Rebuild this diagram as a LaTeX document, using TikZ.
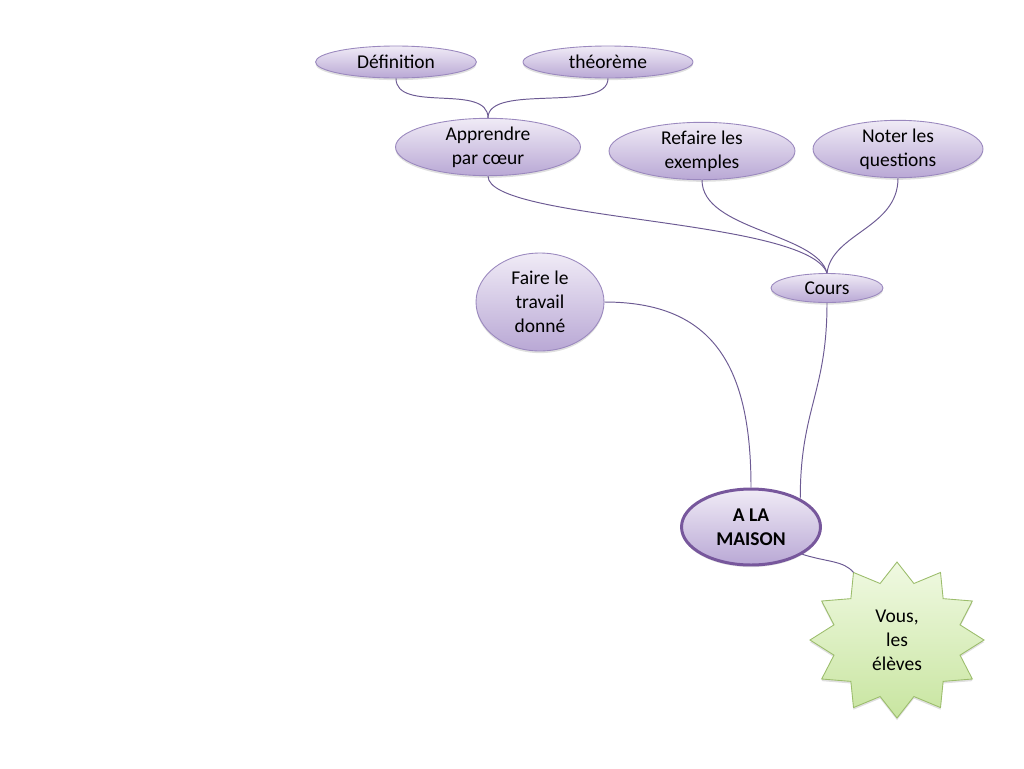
\documentclass[tikz,border=0pt]{standalone}
\usepackage{fontspec}
\setmainfont{Carlito}
\usepackage{xcolor}
\usetikzlibrary{shapes, shadows, calc, positioning}

\definecolor{bord}{HTML}{9A88BE}
\definecolor{haut}{HTML}{F0EBF6}
\definecolor{bas}{HTML}{B9A8D5}
\definecolor{fil}{HTML}{6C5A93}
\definecolor{centre}{HTML}{77579C}
\definecolor{vhaut}{HTML}{F0F9E2}
\definecolor{vbas}{HTML}{C8E5A0}
\definecolor{vbord}{HTML}{9CBD6C}

\begin{document}
\begin{tikzpicture}[x=0.02cm, y=0.02cm]
    \useasboundingbox (0,0) rectangle (1024,-768);
    \begin{scope}[every node/.style = {font=\fontsize{11.1}{13.6}\selectfont, align=center, inner sep=0pt},
        bulle/.style = {ellipse, draw=bord, line width=0.5pt, top color=haut, bottom color=bas,
            drop shadow={opacity=0.25, shadow xshift=0pt, shadow yshift=-1.2pt}},
        lien/.style = {draw=fil, line width=0.55pt}]
        \node[bulle, minimum width=3.22cm, minimum height=0.64cm] (def) at (396,-62) {Définition};
        \node[bulle, minimum width=3.4cm, minimum height=0.64cm] (theo) at (608,-62) {théorème};
        \node[bulle, minimum width=3.7cm, minimum height=1.06cm] (app) at (488,-147) {Apprendre\\par cœur};
        \node[bulle, minimum width=3.72cm, minimum height=1.06cm] (ref) at (702,-151) {Refaire les\\exemples};
        \node[bulle, minimum width=3.4cm, minimum height=1.04cm] (note) at (898,-149) {Noter les\\questions};
        \node[bulle, minimum width=2.24cm, minimum height=0.58cm] (cours) at (827,-288) {Cours};
        \node[bulle, minimum width=2.56cm, minimum height=1.96cm] (faire) at (540,-302) {Faire le\\travail\\donné};
        \node[bulle, draw=centre, line width=1.7pt, minimum width=2.78cm, minimum height=1.52cm,
            font=\fontsize{11.1}{13.6}\selectfont\bfseries] (maison) at (751,-527) {A LA\\MAISON};

        \begin{scope}[shift={(897,-640)}]
        \path[draw=vbord, line width=0.5pt, top color=vhaut, bottom color=vbas,
            drop shadow={opacity=0.25, shadow xshift=0pt, shadow yshift=-1.2pt}]
            (90:87 and 78)
            \foreach \k [evaluate=\k as \rx using {mod(\k,2)==0 ? 87 : 65.25},
                         evaluate=\k as \ry using {mod(\k,2)==0 ? 78 : 58.5}] in {1,...,23}
            { -- ({90+15*\k}:{\rx} and {\ry}) } -- cycle;
        \end{scope}
        \node (eleves) at (897,-640) {Vous,\\les\\élèves};
        \coordinate (pointe) at ([shift={(120:87 and 78)}]eleves.center);

        \draw[lien] (def.south) .. controls +(0,-35) and +(0,35) .. (app.north);
        \draw[lien] (theo.south) .. controls +(0,-35) and +(0,35) .. (app.north);
        \draw[lien] (app.south) .. controls +(0,-45) and +(-20,55) .. (cours.north);
        \draw[lien] (ref.south) .. controls +(0,-50) and +(-10,40) .. (cours.north);
        \draw[lien] (note.south) .. controls +(0,-50) and +(5,40) .. (cours.north);
        \draw[lien] (cours.south) .. controls +(0,-90) and +(0,90) .. (maison.30);
        \draw[lien] (faire.east) .. controls +(110,0) and +(0,120) .. (maison.north);
        \draw[lien] (maison.-28) .. controls +(25,-8) and +(-10,12) .. (pointe);
    \end{scope}
\end{tikzpicture}
\end{document}
